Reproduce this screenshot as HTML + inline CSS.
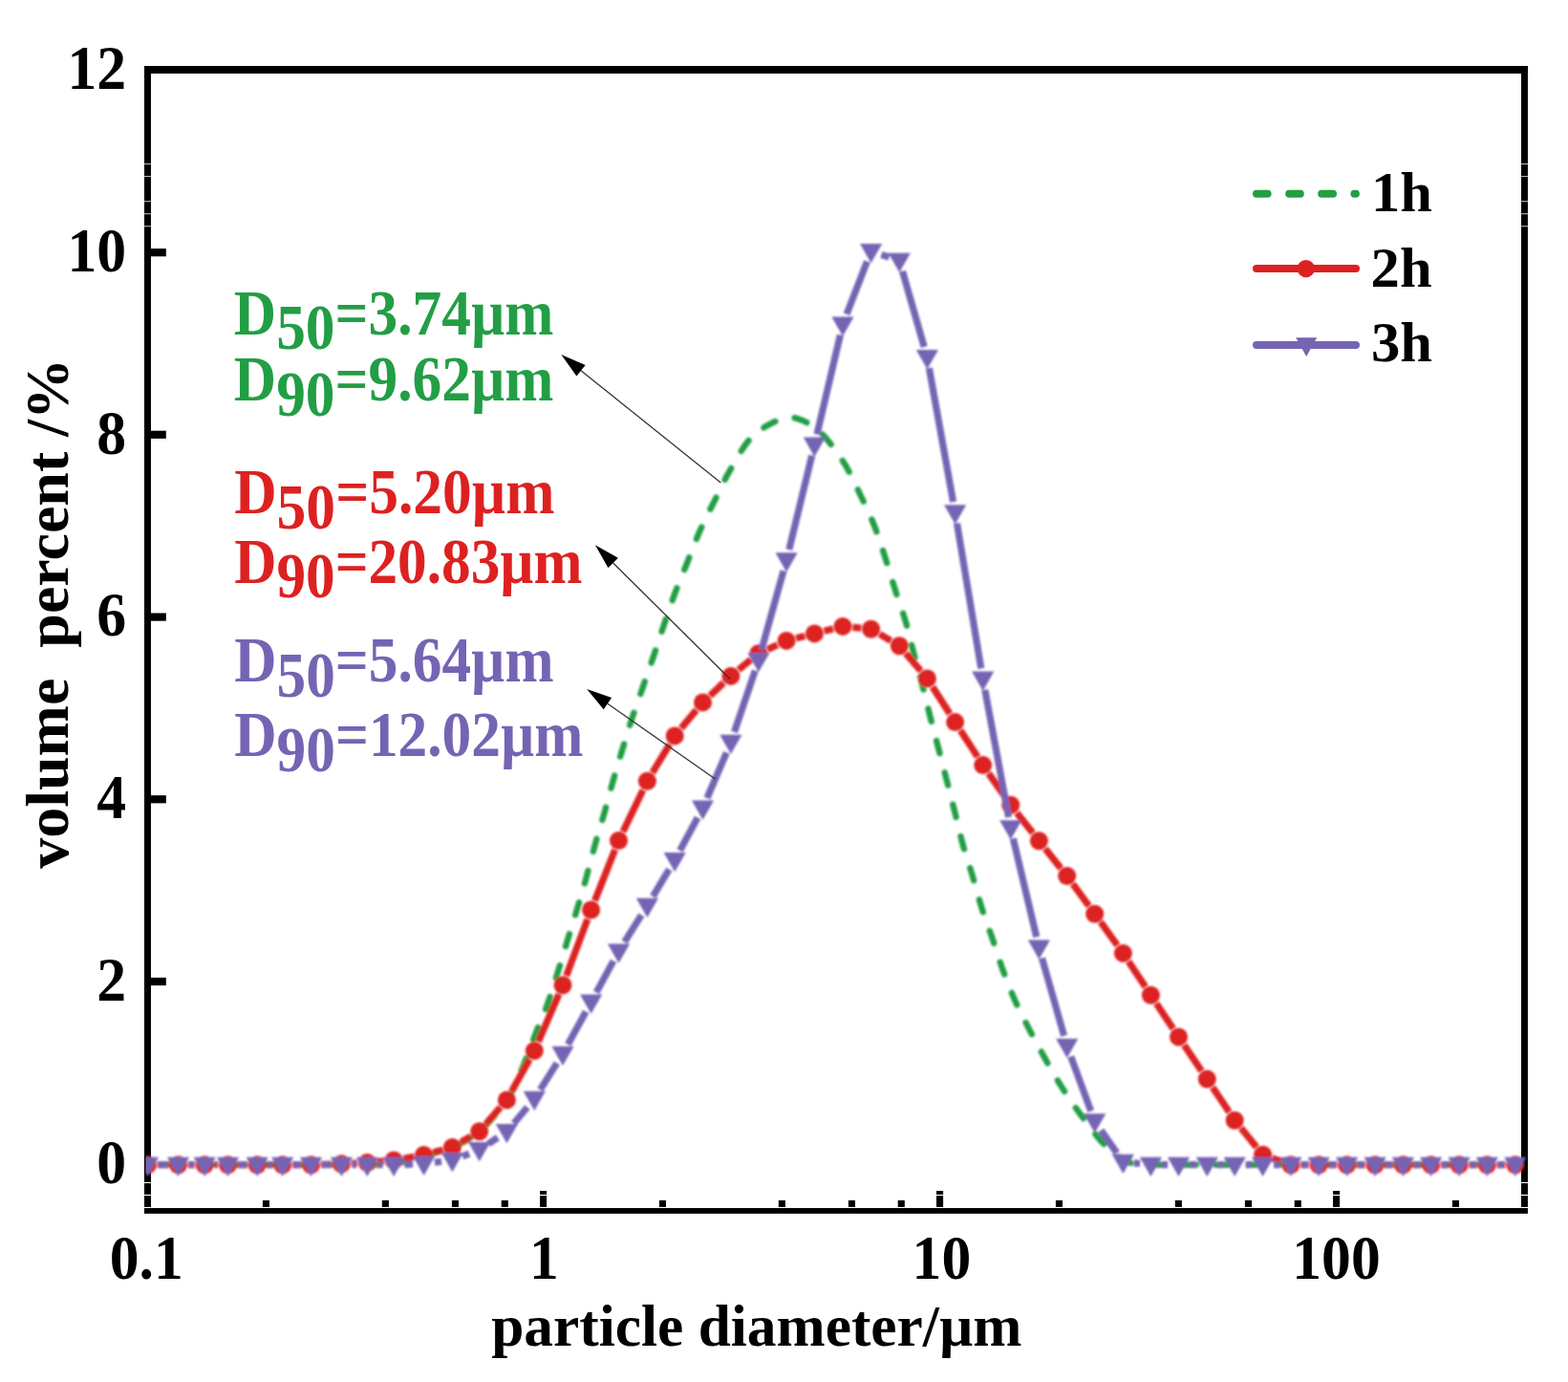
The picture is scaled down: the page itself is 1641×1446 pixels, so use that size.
<!DOCTYPE html>
<html lang="en"><head><meta charset="utf-8"><title>Particle size distribution</title>
<style>
html,body{margin:0;padding:0;background:#fff}
svg{display:block}
text{font-family:"Liberation Serif","DejaVu Serif",serif;font-weight:bold}
</style></head>
<body>
<svg width="1641" height="1446" viewBox="0 0 1641 1446">
<rect width="1641" height="1446" fill="#fff"/>
<defs><clipPath id="plot"><rect x="152.4" y="73" width="1446.6" height="1190"/></clipPath><filter id="soft" x="0" y="0" width="1641" height="1446" filterUnits="userSpaceOnUse"><feGaussianBlur stdDeviation="0.8"/></filter></defs>
<g fill="#000">
<rect x="151" y="69" width="1447.95" height="7.95"/><rect x="151" y="1264" width="1447.95" height="5.85"/><rect x="151" y="69" width="6.97" height="1193.9"/><rect x="1592" y="69" width="6.95" height="1193.9"/>
<rect x="157" y="260.1" width="16.8" height="8.2"/><rect x="157" y="450.7" width="16.8" height="8.2"/><rect x="157" y="641.5" width="16.8" height="8.2"/><rect x="157" y="832.2" width="16.8" height="8.2"/><rect x="157" y="1022.9" width="16.8" height="8.2"/>
<rect x="274.9" y="1255.9" width="7.1" height="7"/><rect x="399.8" y="1255.9" width="7.1" height="7"/><rect x="472.9" y="1255.9" width="7.1" height="7"/><rect x="524.7" y="1255.9" width="7.1" height="7"/><rect x="689.9" y="1255.9" width="7.1" height="7"/><rect x="814.8" y="1255.9" width="7.1" height="7"/><rect x="887.9" y="1255.9" width="7.1" height="7"/><rect x="939.7" y="1255.9" width="7.1" height="7"/><rect x="1104.9" y="1255.9" width="7.1" height="7"/><rect x="1229.8" y="1255.9" width="7.1" height="7"/><rect x="1302.9" y="1255.9" width="7.1" height="7"/><rect x="1354.7" y="1255.9" width="7.1" height="7"/><rect x="1519.9" y="1255.9" width="7.1" height="7"/>
<rect x="565" y="1246" width="7.1" height="16.9"/><rect x="980" y="1246" width="7.1" height="16.9"/><rect x="1395" y="1246" width="7.1" height="16.9"/>
</g>
<g fill="#fff">
<rect x="564" y="1249.9" width="9" height="1.1"/><rect x="979" y="1249.9" width="9" height="1.1"/><rect x="1394" y="1249.9" width="9" height="1.1"/><rect x="150" y="1249.9" width="9" height="1.1"/><rect x="1591" y="1249.9" width="9" height="1.1"/><rect x="150" y="1236.95" width="9" height="1.05"/><rect x="150" y="171.3" width="9" height="0.8"/><rect x="150" y="184.3" width="9" height="0.8"/><rect x="150" y="210.4" width="9" height="0.8"/><rect x="150" y="223.4" width="9" height="0.8"/><rect x="150" y="236.4" width="9" height="0.8"/><rect x="1591" y="1236.95" width="9" height="1.05"/><rect x="1591" y="171.3" width="9" height="0.8"/><rect x="1591" y="184.3" width="9" height="0.8"/><rect x="1591" y="210.4" width="9" height="0.8"/><rect x="1591" y="223.4" width="9" height="0.8"/><rect x="1591" y="236.4" width="9" height="0.8"/>
</g>
<g clip-path="url(#plot)"><g filter="url(#soft)">
<path d="M154.5 1218.7 L412 1218.7 L414.5 1218 L417.7 1217 L421.6 1215.9 L425.9 1214.7 L430.5 1213.3 L435.1 1212 L439.5 1210.7 L443.6 1209.5 L447.4 1208.4 L451.2 1207.4 L455 1206.4 L458.7 1205.4 L462.4 1204.4 L466.1 1203.2 L469.8 1201.9 L473.4 1200.4 L477 1198.8 L480.6 1197.2 L484.1 1195.4 L487.6 1193.6 L491.1 1191.5 L494.6 1189.3 L498.2 1186.7 L501.7 1183.8 L505.4 1180.5 L509.2 1176.7 L513 1172.6 L516.8 1168.3 L520.6 1163.9 L524.1 1159.4 L527.4 1155.1 L530.4 1150.9 L533 1146.9 L535.2 1143 L537.2 1139.2 L539 1135.3 L540.8 1131.4 L542.4 1127.5 L544.2 1123.3 L546 1119 L547.9 1114.4 L549.9 1109.5 L551.9 1104.4 L553.9 1099.2 L555.8 1094 L557.7 1089 L559.5 1084.3 L561.2 1079.9 L562.8 1076 L564.3 1072.4 L565.7 1069.1 L567 1065.9 L568.4 1062.8 L569.7 1059.5 L571 1056.1 L572.4 1052.4 L573.8 1048.4 L575.3 1044.1 L576.7 1039.7 L578.1 1035.2 L579.6 1030.7 L581 1026.2 L582.4 1021.7 L583.7 1017.4 L585 1013.2 L586.3 1009.1 L587.5 1005 L588.7 1001 L589.9 997 L591.2 993 L592.4 988.9 L593.6 984.9 L594.9 980.8 L596.1 976.7 L597.4 972.6 L598.7 968.5 L599.9 964.5 L601.2 960.4 L602.4 956.4 L603.6 952.5 L604.7 948.7 L605.9 945 L606.9 941.4 L608 937.8 L609.1 934.2 L610.1 930.5 L611.2 926.6 L612.4 922.5 L613.6 918.1 L614.8 913.5 L616.1 908.7 L617.4 903.8 L618.7 898.9 L620 894 L621.3 889.3 L622.5 884.8 L623.7 880.5 L624.9 876.3 L626.1 872.3 L627.3 868.3 L628.5 864.3 L629.7 860.4 L630.8 856.4 L632 852.3 L633.2 848.1 L634.3 844 L635.4 839.8 L636.6 835.5 L637.7 831.3 L638.9 827.1 L640 822.8 L641.2 818.6 L642.4 814.4 L643.6 810.1 L644.9 805.9 L646.2 801.7 L647.4 797.4 L648.7 793.2 L649.9 789.1 L651.2 784.9 L652.4 780.8 L653.7 776.7 L654.9 772.6 L656.1 768.6 L657.4 764.5 L658.6 760.5 L659.9 756.5 L661.2 752.4 L662.6 748.3 L663.9 744.3 L665.3 740.2 L666.8 736.1 L668.2 732.1 L669.7 728 L671.1 724 L672.5 719.9 L673.9 715.8 L675.3 711.8 L676.7 707.8 L678.1 703.7 L679.5 699.7 L680.9 695.6 L682.3 691.5 L683.7 687.4 L685.1 683.2 L686.5 679 L687.9 674.8 L689.3 670.6 L690.7 666.3 L692.1 662.1 L693.5 657.9 L694.9 653.7 L696.3 649.6 L697.7 645.5 L699.1 641.4 L700.5 637.3 L701.9 633.2 L703.3 629.2 L704.7 625.2 L706.2 621.2 L707.7 617.3 L709.2 613.4 L710.8 609.5 L712.3 605.7 L713.9 601.8 L715.5 597.9 L717.1 594 L718.7 590 L720.3 585.9 L721.9 581.7 L723.6 577.5 L725.2 573.2 L726.9 568.9 L728.6 564.7 L730.3 560.6 L732 556.5 L733.8 552.5 L735.6 548.7 L737.4 544.8 L739.3 541.1 L741.2 537.3 L743 533.5 L744.9 529.8 L746.8 526 L748.7 522.2 L750.5 518.4 L752.3 514.6 L754.2 510.8 L756.1 507 L758 503.2 L759.9 499.4 L762 495.6 L764.2 491.7 L766.5 487.6 L768.9 483.4 L771.3 479.3 L773.7 475.3 L776 471.5 L778.3 468.1 L780.3 465.1 L782.2 462.6 L783.9 460.5 L785.5 458.7 L787 457.2 L788.5 455.8 L789.9 454.5 L791.4 453.3 L793 452 L794.6 450.7 L796.3 449.5 L797.9 448.4 L799.5 447.3 L801.2 446.3 L802.8 445.4 L804.4 444.5 L806 443.6 L807.6 442.8 L809.1 442 L810.6 441.3 L812.1 440.7 L813.6 440.1 L815.1 439.5 L816.5 439 L818 438.6 L819.4 438.2 L820.8 437.9 L822.2 437.5 L823.6 437.3 L825 437.1 L826.4 437 L827.7 437 L829.1 437 L830.5 437.1 L831.8 437.3 L833.2 437.6 L834.5 438 L835.8 438.4 L837.2 438.9 L838.6 439.4 L840 440 L841.4 440.7 L842.9 441.4 L844.4 442.1 L845.9 443 L847.4 443.9 L848.9 444.8 L850.5 445.9 L852 447 L853.5 448.1 L854.9 449.2 L856.3 450.3 L857.8 451.5 L859.2 452.9 L860.8 454.5 L862.6 456.4 L864.5 458.6 L866.7 461.3 L869.1 464.3 L871.6 467.6 L874.3 471.1 L877 474.8 L879.6 478.6 L882.1 482.4 L884.5 486.2 L886.7 490 L888.8 493.9 L890.9 497.8 L892.8 501.8 L894.8 505.9 L896.7 509.9 L898.6 514 L900.5 518 L902.4 522 L904.3 526 L906.2 529.9 L908 533.9 L909.9 537.9 L911.6 541.9 L913.4 546 L915 550 L916.6 554.1 L918.1 558.2 L919.5 562.3 L920.9 566.4 L922.3 570.6 L923.6 574.7 L925 578.9 L926.3 583 L927.6 587.1 L928.9 591.3 L930.2 595.4 L931.4 599.5 L932.7 603.6 L933.9 607.8 L935.2 611.9 L936.5 616 L937.8 620.1 L939.2 624.2 L940.6 628.2 L942 632.3 L943.4 636.4 L944.7 640.5 L946 644.6 L947.3 648.7 L948.5 652.9 L949.6 657.1 L950.7 661.3 L951.8 665.6 L952.8 669.8 L953.9 674 L954.9 678.2 L956 682.4 L957.1 686.5 L958.2 690.6 L959.3 694.6 L960.4 698.6 L961.5 702.6 L962.6 706.6 L963.7 710.7 L964.8 714.9 L965.9 719.2 L967 723.5 L968.1 727.9 L969.1 732.3 L970.2 736.8 L971.3 741.2 L972.4 745.6 L973.5 749.9 L974.6 754.2 L975.7 758.4 L976.8 762.6 L977.9 766.8 L979 771 L980.1 775.2 L981.2 779.4 L982.3 783.6 L983.4 787.8 L984.5 792 L985.6 796.3 L986.7 800.5 L987.8 804.7 L988.8 808.9 L989.9 813.1 L991 817.3 L992.1 821.5 L993.1 825.6 L994.2 829.8 L995.3 833.9 L996.4 838.1 L997.4 842.2 L998.5 846.4 L999.5 850.5 L1000.5 854.6 L1001.5 858.8 L1002.5 862.9 L1003.5 867.1 L1004.4 871.2 L1005.5 875.3 L1006.5 879.4 L1007.6 883.5 L1008.8 887.5 L1009.9 891.5 L1011.2 895.5 L1012.4 899.4 L1013.7 903.4 L1015 907.3 L1016.2 911.4 L1017.5 915.5 L1018.7 919.7 L1020 924 L1021.2 928.3 L1022.4 932.7 L1023.7 937.1 L1024.9 941.5 L1026.2 945.8 L1027.5 950 L1028.8 954.1 L1030.2 958.2 L1031.6 962.2 L1033 966.2 L1034.4 970.2 L1035.9 974.3 L1037.3 978.3 L1038.7 982.4 L1040.1 986.6 L1041.5 990.8 L1042.9 995.1 L1044.3 999.4 L1045.7 1003.7 L1047.1 1007.9 L1048.5 1012.1 L1050 1016.2 L1051.5 1020.2 L1053 1024.2 L1054.5 1028.1 L1056 1032 L1057.6 1035.9 L1059.2 1039.7 L1060.8 1043.6 L1062.5 1047.4 L1064.2 1051.2 L1066 1055 L1067.9 1058.7 L1069.7 1062.5 L1071.6 1066.2 L1073.5 1069.9 L1075.5 1073.7 L1077.4 1077.4 L1079.4 1081.2 L1081.3 1084.9 L1083.4 1088.7 L1085.4 1092.4 L1087.4 1096.2 L1089.5 1099.9 L1091.6 1103.7 L1093.7 1107.4 L1095.8 1111.2 L1098 1115 L1100.1 1118.8 L1102.3 1122.6 L1104.5 1126.3 L1106.7 1130.1 L1108.9 1133.8 L1111.2 1137.4 L1113.5 1141 L1115.8 1144.5 L1118.1 1147.9 L1120.4 1151.3 L1122.7 1154.7 L1125.1 1158.1 L1127.5 1161.4 L1129.9 1164.8 L1132.4 1168.2 L1135 1171.8 L1137.7 1175.4 L1140.3 1178.9 L1142.9 1182.3 L1145.4 1185.6 L1147.8 1188.5 L1149.9 1191.1 L1151.8 1193.3 L1153.5 1195.1 L1155 1196.7 L1156.4 1198.1 L1157.7 1199.3 L1159.1 1200.5 L1160.5 1201.7 L1162 1203 L1163.6 1204.4 L1165.2 1205.7 L1166.8 1207.1 L1168.4 1208.4 L1170.1 1209.6 L1171.7 1210.8 L1173.4 1212 L1175 1213 L1176.7 1214 L1178.6 1214.9 L1180.4 1215.7 L1182.3 1216.5 L1184.1 1217.2 L1185.7 1217.8 L1187 1218.3 L1188 1218.7 L1585.8 1218.7" fill="none" stroke="#229E45" stroke-width="6.4" stroke-linecap="round" stroke-linejoin="round" stroke-dasharray="13.60 20.86" stroke-dashoffset="15.09"/>
<path d="M164.9 1218.7L176.1 1218.7M196.9 1218.7L203.8 1218.7M224.6 1218.7L228.1 1218.7M248.9 1218.7L258.8 1218.7M279.6 1218.7L285.3 1218.7M306.1 1218.7L315.1 1218.7M335.9 1218.4L347 1218.1M367.8 1217.3L374 1217M394.8 1215.6L401.7 1214.9M422.3 1212.2L433.4 1210.3M453.6 1205.8L463.4 1203.1M482.4 1195.1L492.7 1189.1M508.5 1176L523.6 1158.7M535.5 1141.8L554.2 1108.5M563.4 1089.9L584.9 1040.2M592.7 1021L614.9 961.7M622.5 942.3L643.6 889.2M652 870.1L672.9 826.7M682.8 808.4L700.8 778.8M712.9 761.9L728.8 742.9M743.1 727.8L757.3 714.5M773 700.8L785.8 690.3M803.4 679.4L813.6 674.7M833.2 667.8L842.3 665.5M862.5 660.3L871.9 658M892.4 656.4L901.2 657.2M920.6 663.5L932.3 670.4M948 683.6L963.7 702M976 718.7L994 746.8M1005.2 764.3L1023.1 791.9M1034.6 809.1L1051.8 833.8M1064.2 850.5L1080.9 871.6M1093.9 887.9L1110.2 908.4M1122.8 924.9L1139.6 947.8M1151.8 964.6L1169.3 989M1181.1 1006.1L1198.7 1032.5M1210.2 1049.9L1227.7 1076.2M1239.3 1093.5L1257.5 1120.5M1269.1 1137.7L1286.4 1163.6M1298.8 1180.3L1315 1200.2M1331.4 1211.8L1341.1 1215.2M1361.3 1218.7L1369.8 1218.7M1390.6 1218.7L1399.2 1218.7M1420 1218.7L1428.7 1218.7M1449.5 1218.7L1458 1218.7M1478.8 1218.7L1487.2 1218.7M1508 1218.7L1516.7 1218.7M1537.5 1218.7L1545.9 1218.7M1566.7 1218.7L1575.4 1218.7" fill="none" stroke="#DD2121" stroke-width="7.2"/>
<g fill="#DD2121"><circle cx="154.5" cy="1218.7" r="9.5"/><circle cx="186.5" cy="1218.7" r="9.5"/><circle cx="214.2" cy="1218.7" r="9.5"/><circle cx="238.5" cy="1218.7" r="9.5"/><circle cx="269.2" cy="1218.7" r="9.5"/><circle cx="295.7" cy="1218.7" r="9.5"/><circle cx="325.5" cy="1218.7" r="9.5"/><circle cx="357.4" cy="1217.8" r="9.5"/><circle cx="384.4" cy="1216.5" r="9.5"/><circle cx="412.1" cy="1214" r="9.5"/><circle cx="443.6" cy="1208.5" r="9.5"/><circle cx="473.4" cy="1200.4" r="9.5"/><circle cx="501.7" cy="1183.8" r="9.5"/><circle cx="530.4" cy="1150.9" r="9.5"/><circle cx="559.3" cy="1099.4" r="9.5"/><circle cx="589" cy="1030.7" r="9.5"/><circle cx="618.6" cy="952" r="9.5"/><circle cx="647.5" cy="879.5" r="9.5"/><circle cx="677.4" cy="817.3" r="9.5"/><circle cx="706.2" cy="769.9" r="9.5"/><circle cx="735.5" cy="734.9" r="9.5"/><circle cx="764.9" cy="707.4" r="9.5"/><circle cx="793.9" cy="683.7" r="9.5"/><circle cx="823.1" cy="670.4" r="9.5"/><circle cx="852.4" cy="662.9" r="9.5"/><circle cx="882" cy="655.4" r="9.5"/><circle cx="911.6" cy="658.2" r="9.5"/><circle cx="941.3" cy="675.7" r="9.5"/><circle cx="970.4" cy="709.9" r="9.5"/><circle cx="999.6" cy="755.6" r="9.5"/><circle cx="1028.7" cy="800.6" r="9.5"/><circle cx="1057.7" cy="842.3" r="9.5"/><circle cx="1087.4" cy="879.8" r="9.5"/><circle cx="1116.7" cy="916.5" r="9.5"/><circle cx="1145.7" cy="956.2" r="9.5"/><circle cx="1175.4" cy="997.4" r="9.5"/><circle cx="1204.4" cy="1041.2" r="9.5"/><circle cx="1233.5" cy="1084.9" r="9.5"/><circle cx="1263.3" cy="1129.1" r="9.5"/><circle cx="1292.2" cy="1172.2" r="9.5"/><circle cx="1321.6" cy="1208.3" r="9.5"/><circle cx="1350.9" cy="1218.7" r="9.5"/><circle cx="1380.2" cy="1218.7" r="9.5"/><circle cx="1409.6" cy="1218.7" r="9.5"/><circle cx="1439.1" cy="1218.7" r="9.5"/><circle cx="1468.4" cy="1218.7" r="9.5"/><circle cx="1497.6" cy="1218.7" r="9.5"/><circle cx="1527.1" cy="1218.7" r="9.5"/><circle cx="1556.3" cy="1218.7" r="9.5"/><circle cx="1585.8" cy="1218.7" r="9.5"/></g>
<path d="M165.9 1218.7L175.1 1218.7M197.9 1218.7L202.8 1218.7M225.6 1218.7L227.1 1218.7M249.9 1218.7L257.8 1218.7M280.6 1218.7L284.3 1218.7M307.1 1218.7L314.1 1218.7M336.9 1218.7L346 1218.7M368.8 1218.7L373 1218.7M395.8 1218.7L400.7 1218.7M423.5 1218.3L432.2 1218.1M454.9 1216.3L462.1 1215.4M484 1209.9L491.1 1207.1M511.2 1196.7L520.9 1190.2M537.8 1175.2L551.9 1158.5M565.4 1140.2L582.9 1112.4M594.4 1092.8L613.2 1058.4M624.1 1038.4L642 1005.4M653.6 985.7L671.3 957.4M683.3 937.9L700.3 909.7M711.6 889.9L730.1 855.5M740 835L760.4 787.3M768.5 766L790.3 701.7M797 679.9L820 597.3M825.8 575.2L849.7 476.7M855 454.5L879.4 350.5M886.1 328.8L907.5 273.5M922.4 266.5L930.5 269.1M944.5 283.7L967.2 362.9M972.4 385.1L997.6 525.1M1001.5 547.5L1026.8 699.4M1030.8 721.8L1055.6 855.1M1060.3 877.4L1084.8 980.3M1090.5 1002.4L1113.6 1083.8M1120.7 1105.5L1141.7 1162.6M1152.2 1182.6L1168.9 1206.4M1186.7 1216.9L1193.1 1217.5M1215.8 1218.7L1222.1 1218.7M1244.9 1218.7L1251.9 1218.7M1274.7 1218.7L1280.8 1218.7M1303.6 1218.7L1310.2 1218.7M1333 1218.7L1339.5 1218.7M1362.3 1218.7L1368.8 1218.7M1391.6 1218.7L1398.2 1218.7M1421 1218.7L1427.7 1218.7M1450.5 1218.7L1457 1218.7M1479.8 1218.7L1486.2 1218.7M1509 1218.7L1515.7 1218.7M1538.5 1218.7L1544.9 1218.7M1567.7 1218.7L1574.4 1218.7" fill="none" stroke="#7564B3" stroke-width="7.2"/>
<g fill="#7564B3"><path d="M142.9 1210.7h23.2L154.5 1231z"/><path d="M174.9 1210.7h23.2L186.5 1231z"/><path d="M202.6 1210.7h23.2L214.2 1231z"/><path d="M226.9 1210.7h23.2L238.5 1231z"/><path d="M257.6 1210.7h23.2L269.2 1231z"/><path d="M284.1 1210.7h23.2L295.7 1231z"/><path d="M313.9 1210.7h23.2L325.5 1231z"/><path d="M345.8 1210.7h23.2L357.4 1231z"/><path d="M372.8 1210.7h23.2L384.4 1231z"/><path d="M400.5 1210.7h23.2L412.1 1231z"/><path d="M432 1209.7h23.2L443.6 1230z"/><path d="M461.8 1206h23.2L473.4 1226.3z"/><path d="M490.1 1195h23.2L501.7 1215.3z"/><path d="M518.8 1175.9h23.2L530.4 1196.2z"/><path d="M547.7 1141.8h23.2L559.3 1162.1z"/><path d="M577.4 1094.8h23.2L589 1115.1z"/><path d="M607 1040.4h23.2L618.6 1060.7z"/><path d="M635.9 987.4h23.2L647.5 1007.7z"/><path d="M665.8 939.7h23.2L677.4 960z"/><path d="M694.6 891.9h23.2L706.2 912.2z"/><path d="M723.9 837.5h23.2L735.5 857.8z"/><path d="M753.3 768.8h23.2L764.9 789.1z"/><path d="M782.3 682.9h23.2L793.9 703.2z"/><path d="M811.5 578.3h23.2L823.1 598.6z"/><path d="M840.8 457.6h23.2L852.4 477.9z"/><path d="M870.4 331.4h23.2L882 351.7z"/><path d="M900 254.9h23.2L911.6 275.2z"/><path d="M929.7 264.7h23.2L941.3 285z"/><path d="M958.8 365.9h23.2L970.4 386.2z"/><path d="M988 528.3h23.2L999.6 548.6z"/><path d="M1017.1 702.6h23.2L1028.7 722.9z"/><path d="M1046.1 858.3h23.2L1057.7 878.6z"/><path d="M1075.8 983.4h23.2L1087.4 1003.7z"/><path d="M1105.1 1086.8h23.2L1116.7 1107.1z"/><path d="M1134.1 1165.3h23.2L1145.7 1185.6z"/><path d="M1163.8 1207.7h23.2L1175.4 1228z"/><path d="M1192.8 1210.7h23.2L1204.4 1231z"/><path d="M1221.9 1210.7h23.2L1233.5 1231z"/><path d="M1251.7 1210.7h23.2L1263.3 1231z"/><path d="M1280.6 1210.7h23.2L1292.2 1231z"/><path d="M1310 1210.7h23.2L1321.6 1231z"/><path d="M1339.3 1210.7h23.2L1350.9 1231z"/><path d="M1368.6 1210.7h23.2L1380.2 1231z"/><path d="M1398 1210.7h23.2L1409.6 1231z"/><path d="M1427.5 1210.7h23.2L1439.1 1231z"/><path d="M1456.8 1210.7h23.2L1468.4 1231z"/><path d="M1486 1210.7h23.2L1497.6 1231z"/><path d="M1515.5 1210.7h23.2L1527.1 1231z"/><path d="M1544.7 1210.7h23.2L1556.3 1231z"/><path d="M1574.2 1210.7h23.2L1585.8 1231z"/></g>
</g></g>
<g font-size="65" text-anchor="end">
<text transform="translate(132.2 92.8) scale(0.95 1)">12</text><text transform="translate(132.2 284) scale(0.95 1)">10</text><text transform="translate(132.2 474.6) scale(0.95 1)">8</text><text transform="translate(132.2 665.4) scale(0.95 1)">6</text><text transform="translate(132.2 856.1) scale(0.95 1)">4</text><text transform="translate(132.2 1046.8) scale(0.95 1)">2</text><text transform="translate(132.2 1237.6) scale(0.95 1)">0</text>
</g>
<g font-size="64.5" text-anchor="middle">
<text transform="translate(153.2 1338.2) scale(0.955 1)">0.1</text><text transform="translate(569.4 1338.2) scale(0.955 1)">1</text><text transform="translate(985.4 1338.2) scale(0.955 1)">10</text><text transform="translate(1398.5 1338.2) scale(0.955 1)">100</text>
</g>
<text x="514.2" y="1408.2" font-size="61.4" textLength="555.2" lengthAdjust="spacingAndGlyphs">particle diameter/µm</text>
<text transform="translate(70.7 908.8) rotate(-90)" font-size="64" xml:space="preserve" style="white-space:pre">volume  percent /%</text>
<g fill="none" stroke-width="8" stroke-linecap="round">
<path d="M1315 202.8h11.6m22.6 0h11.6m22.4 0h11.8m22.4 0h1.5" stroke="#229E45"/>
<path d="M1315 281.1H1419" stroke="#DD2121"/>
<path d="M1315 361H1419" stroke="#7564B3"/>
</g>
<circle cx="1366.8" cy="281.1" r="9.2" fill="#DD2121"/>
<path d="M1356.2 353.2h22L1367.2 373z" fill="#7564B3"/>
<g font-size="60">
<text transform="translate(1435 220.6) scale(1.01 1)">1h</text><text transform="translate(1434.6 300) scale(1.01 1)">2h</text><text transform="translate(1435 378.2) scale(1.01 1)">3h</text>
</g>
<text x="244.8" y="349.5" font-size="67" fill="#229E45" textLength="334.7" lengthAdjust="spacingAndGlyphs">D<tspan dy="15.3">50</tspan><tspan dy="-15.3">=3.74µm</tspan></text>
<text x="244.8" y="419.4" font-size="67" fill="#229E45" textLength="334.7" lengthAdjust="spacingAndGlyphs">D<tspan dy="15.3">90</tspan><tspan dy="-15.3">=9.62µm</tspan></text>
<text x="245.2" y="537.3" font-size="67" fill="#DD2121" textLength="335.3" lengthAdjust="spacingAndGlyphs">D<tspan dy="15.3">50</tspan><tspan dy="-15.3">=5.20µm</tspan></text>
<text x="245.2" y="609.8" font-size="67" fill="#DD2121" textLength="364.3" lengthAdjust="spacingAndGlyphs">D<tspan dy="15.3">90</tspan><tspan dy="-15.3">=20.83µm</tspan></text>
<text x="245.2" y="713.2" font-size="67" fill="#7564B3" textLength="334.3" lengthAdjust="spacingAndGlyphs">D<tspan dy="15.3">50</tspan><tspan dy="-15.3">=5.64µm</tspan></text>
<text x="245.2" y="791.2" font-size="67" fill="#7564B3" textLength="365.3" lengthAdjust="spacingAndGlyphs">D<tspan dy="15.3">90</tspan><tspan dy="-15.3">=12.02µm</tspan></text>
<path d="M754.3 504.9L608 387.7" stroke="#333" stroke-width="1.3" fill="none"/><path d="M587.3 371.1L612.6 381.9L603.4 393.4z" fill="#000"/>
<path d="M764.3 710.7L641.7 589" stroke="#333" stroke-width="1.3" fill="none"/><path d="M622.9 570.3L646.9 583.7L636.5 594.2z" fill="#000"/>
<path d="M748.8 815.3L635.9 736.2" stroke="#333" stroke-width="1.3" fill="none"/><path d="M614.2 721L640.1 730.1L631.7 742.3z" fill="#000"/>
</svg>
</body></html>
